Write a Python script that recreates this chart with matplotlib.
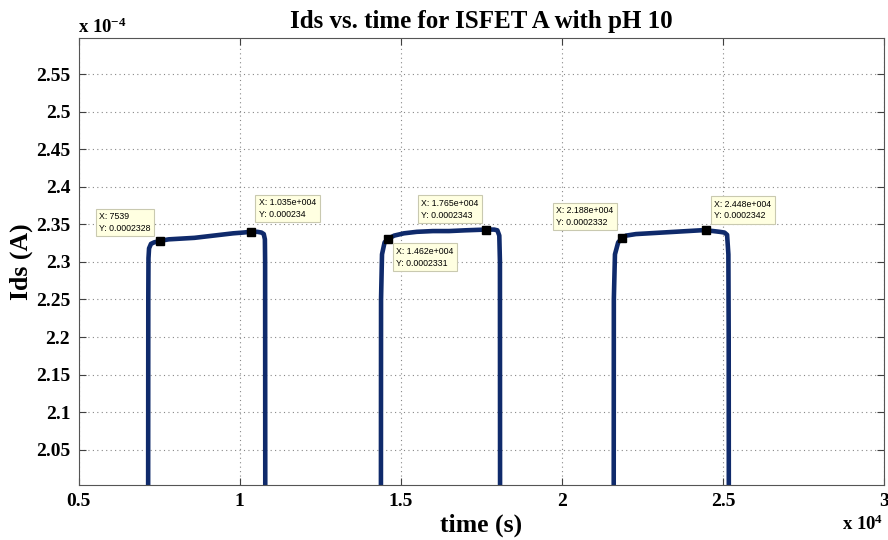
import matplotlib
matplotlib.use('Agg')
import matplotlib.pyplot as plt
import numpy as np

plt.rcParams['font.family'] = ['Liberation Serif', 'DejaVu Serif']
plt.rcParams['font.weight'] = 'bold'
plt.rcParams['mathtext.default'] = 'regular'

# three measurement runs, time in s, current in A
seg1_t = [7160, 7166, 7172, 7190, 7250, 7350, 7539, 7800, 8200, 8600, 9000, 9400, 9800,
          10100, 10350, 10550, 10680, 10750, 10785, 10792, 10798]
seg1_i = [1.90e-4, 2.25e-4, 2.305e-4, 2.318e-4, 2.324e-4, 2.326e-4, 2.328e-4, 2.330e-4,
          2.331e-4, 2.332e-4, 2.334e-4, 2.336e-4, 2.338e-4, 2.339e-4, 2.340e-4, 2.340e-4,
          2.339e-4, 2.337e-4, 2.330e-4, 2.30e-4, 1.90e-4]

seg2_t = [14385, 14390, 14420, 14500, 14620, 14800, 15100, 15500, 16000, 16500, 17000,
          17650, 17900, 18000, 18060, 18080, 18085]
seg2_i = [1.90e-4, 2.25e-4, 2.31e-4, 2.326e-4, 2.331e-4, 2.335e-4, 2.338e-4, 2.340e-4,
          2.341e-4, 2.341e-4, 2.342e-4, 2.343e-4, 2.343e-4, 2.342e-4, 2.335e-4, 2.30e-4,
          1.90e-4]

seg3_t = [21610, 21615, 21650, 21750, 21880, 22000, 22300, 22700, 23100, 23500, 23900,
          24300, 24480, 24700, 24900, 25050, 25130, 25170, 25180, 25185]
seg3_i = [1.90e-4, 2.25e-4, 2.31e-4, 2.326e-4, 2.332e-4, 2.335e-4, 2.337e-4, 2.338e-4,
          2.339e-4, 2.340e-4, 2.341e-4, 2.342e-4, 2.342e-4, 2.341e-4, 2.340e-4, 2.339e-4,
          2.336e-4, 2.31e-4, 2.2e-4, 1.90e-4]

# data tips
tip_x = [7539, 10350, 17650, 14620, 21880, 24480]
tip_y = [2.328e-4, 2.34e-4, 2.343e-4, 2.331e-4, 2.332e-4, 2.342e-4]
tip_labels = ['X: 7539\nY: 0.0002328',
              'X: 1.035e+004\nY: 0.000234',
              'X: 1.765e+004\nY: 0.0002343',
              'X: 1.462e+004\nY: 0.0002331',
              'X: 2.188e+004\nY: 0.0002332',
              'X: 2.448e+004\nY: 0.0002342']
tip_offsets = [(-61, 8), (8, 13), (-65, 10), (8, -29), (-66, 11), (8, 10)]

xticks = [0.5, 1, 1.5, 2, 2.5, 3]
yticks = [2.05, 2.1, 2.15, 2.2, 2.25, 2.3, 2.35, 2.4, 2.45, 2.5, 2.55]

fig = plt.figure(figsize=(8.88, 5.40), dpi=100)
ax = fig.add_axes([78.5/888, 1 - 485/540, (884 - 78.5)/888, (485 - 38)/540])

line_color = '#0f2a6b'
for t, i in [(seg1_t, seg1_i), (seg2_t, seg2_i), (seg3_t, seg3_i)]:
    ax.plot(np.array(t)/1e4, np.array(i)/1e-4, color=line_color, lw=3.3,
            solid_capstyle='round', solid_joinstyle='round')

for x, y, lab, off in zip(tip_x, tip_y, tip_labels, tip_offsets):
    ax.plot(x/1e4, y/1e-4, 's', color='black', ms=5.5, zorder=5)
    ax.annotate(lab, (x/1e4, y/1e-4), xytext=off, textcoords='offset pixels',
                ha='left', va='bottom', fontsize=6.3, fontweight='normal',
                family='Liberation Sans', linespacing=1.4,
                bbox=dict(boxstyle='square,pad=0.4', fc='#ffffe1', ec='#c9c9b0', lw=0.8),
                zorder=6)

ax.set_xlim(0.5, 3)
ax.set_ylim(2.003, 2.598)
ax.set_xticks(xticks)
ax.set_xticklabels(['0.5', '1', '1.5', '2', '2.5', '3'])
ax.set_yticks(yticks)
ax.set_yticklabels(['2.05', '2.1', '2.15', '2.2', '2.25', '2.3', '2.35', '2.4', '2.45', '2.5', '2.55'])
ax.tick_params(direction='in', top=True, right=True, labelsize=14, length=5,
               color='#404040', pad=6)
for lab in ax.get_xticklabels() + ax.get_yticklabels():
    lab.set_fontweight('bold')
ax.grid(True, linestyle=(0, (1, 3)), color='#888888', lw=0.8)
for s in ax.spines.values():
    s.set_color('#555555')

ax.set_title('Ids vs. time for ISFET A with pH 10', fontsize=18, fontweight='bold', pad=7)
ax.set_xlabel('time (s)', fontsize=18.5, fontweight='bold', labelpad=2)
ax.set_ylabel('Ids (A)', fontsize=18.5, fontweight='bold', labelpad=2)

fig.text(78/888, 1 - 33/540, 'x 10$^{-4}$', fontsize=13.5, fontweight='bold', ha='left', va='baseline')
fig.text(842/888, 1 - 530/540, 'x 10$^{4}$', fontsize=13.5, fontweight='bold', ha='left', va='baseline')

fig.savefig('out.png', dpi=100)
